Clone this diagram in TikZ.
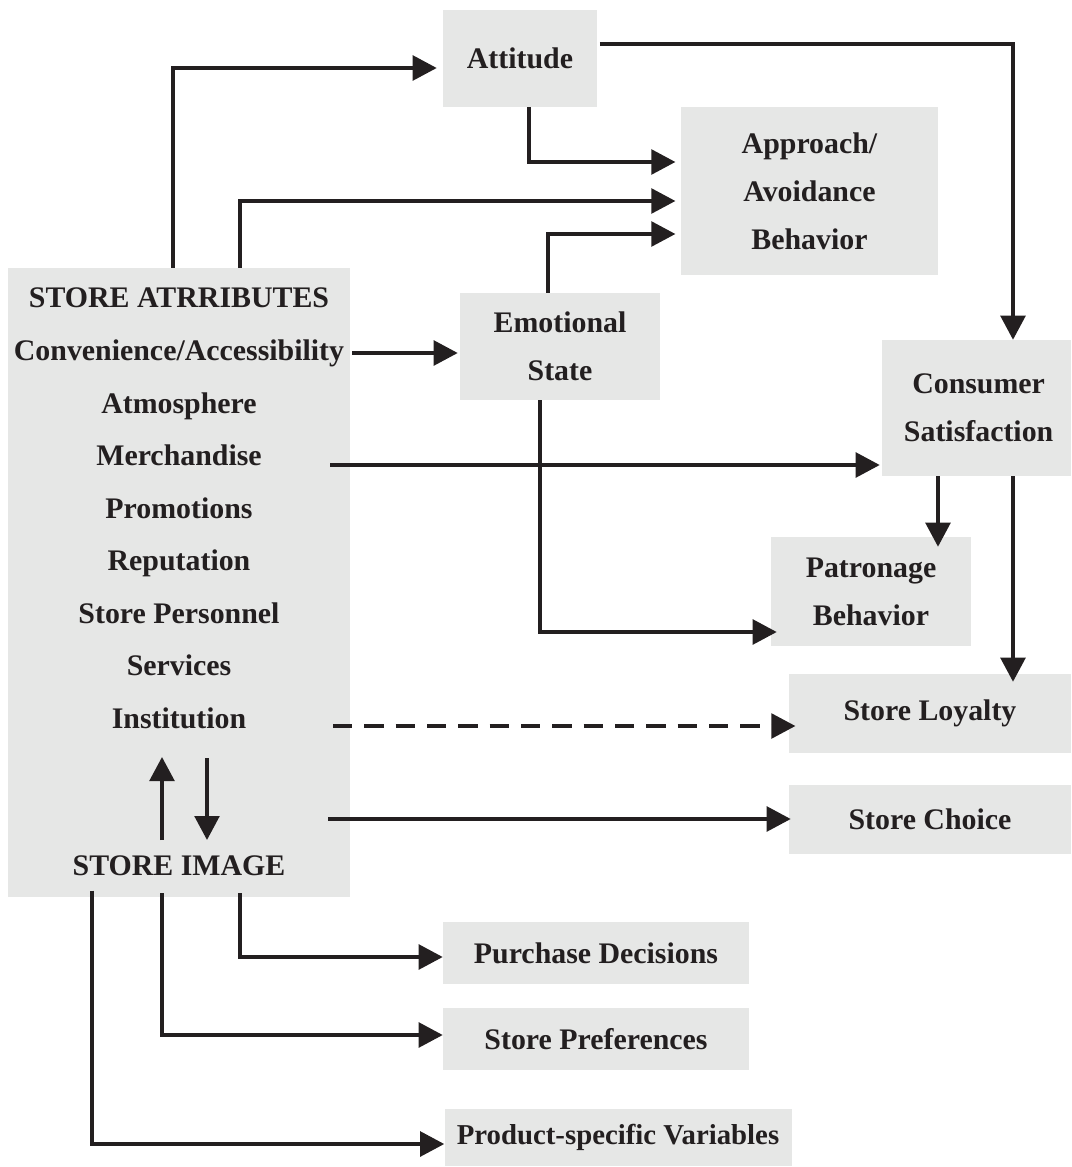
\documentclass[tikz,border=0pt]{standalone}
\usepackage{fontspec}
\setmainfont{Liberation Serif}
\usetikzlibrary{arrows.meta,calc}
\definecolor{boxfill}{RGB}{230,231,230}
\definecolor{ink}{RGB}{35,31,32}

\begin{document}
\begin{tikzpicture}[x=0.75pt,y=-0.75pt,
  txt/.style={font=\fontsize{22.4}{36}\selectfont\bfseries, text=ink},
  box/.style={txt, fill=boxfill, draw=none, inner sep=0pt, align=center},
  wh/.style 2 args={minimum width=#1*0.75pt, minimum height=#2*0.75pt},
  item/.style={txt, anchor=base, inner sep=0pt},
  link/.style={draw=ink, line width=2.6pt, -{Triangle[length=18pt,width=18.5pt]}},
  dashlink/.style={link, dash pattern=on 14.5pt off 9pt}
]
\useasboundingbox (0,0) rectangle (1071,1167);

% boxes
\node[box, wh={154}{97}]  (att)  at (520,58.5)   {Attitude};
\node[box, wh={257}{168}] (app)  at (809.5,191)  {Approach/\\Avoidance\\Behavior};
\node[box, wh={342}{629}] (big)  at (179,582.5)  {};
\node[box, wh={200}{107}] (emo)  at (560,346.5)  {Emotional\\State};
\node[box, wh={189}{136}] (sat)  at (976.5,408)  {\hspace*{8\pgflinewidth}Consumer\\\hspace*{8\pgflinewidth}Satisfaction};
\node[box, wh={200}{109}] (pat)  at (871,591.5)  {Patronage\\Behavior};
\node[box, wh={282}{79}]  (loy)  at (930,713.5)  {Store Loyalty};
\node[box, wh={282}{69}]  (cho)  at (930,819.5)  {Store Choice};
\node[box, wh={306}{62}]  (pur)  at (596,953)    {Purchase Decisions};
\node[box, wh={306}{62}]  (pre)  at (596,1039)   {Store Preferences};
\node[box, wh={347}{57}]  (prod) at (618,1137.5) {\fontsize{21.6}{36}\selectfont Product-specific Variables};

% store attribute list
\node[item] (hdr)  at (179,307) {STORE ATRRIBUTES};
\node[item] (conv) at (179,360) {Convenience/Accessibility};
\node[item] (atm)  at (179,413) {Atmosphere};
\node[item] (mer)  at (179,465) {Merchandise};
\node[item] (pro)  at (179,518) {Promotions};
\node[item] (rep)  at (179,570) {Reputation};
\node[item] (per)  at (179,623) {Store Personnel};
\node[item] (ser)  at (179,675) {Services};
\node[item] (ins)  at (179,728) {Institution};
\node[item] (img)  at (179,875) {STORE IMAGE};

% free ends inside the attribute box
\coordinate (convout) at (352,353);
\coordinate (merout)  at (330,465);
\coordinate (insout)  at (333,726);
\coordinate (choout)  at (328,819);
\coordinate (upfrom)  at (162,840);
\coordinate (upto)    at (162,757);
\coordinate (dnfrom)  at (207,758);
\coordinate (dnto)    at (207,840);

% connectors
\draw[link, shorten >=4.5pt] (big.north -| 173,0) |- (att.west |- 0,68);
\draw[link, shorten >=4pt]   (big.north -| 240,0) |- (app.west |- 0,201);
\draw[link, shorten >=4pt]   (att.south -| 529,0) |- (app.west |- 0,162);
\draw[link, shorten >=4pt]   (emo.north -| 548,0) |- (app.west |- 0,234);
\draw[link, shorten <=2pt]   (att.east |- 0,44) -| (sat.north -| 1013,0);
\draw[link, shorten >=1.5pt] (convout) -- (emo.west |- convout);
\draw[link, shorten >=1.5pt] (merout) -- (sat.west |- merout);
\draw[link, shorten >=-7.5pt] (sat.south -| 938,0) -- (pat.north -| 938,0);
\draw[link, shorten >=-6pt]  (sat.south -| 1013,0) -- (loy.north -| 1013,0);
\draw[link, shorten >=-4.5pt] (emo.south -| 540,0) |- (pat.west |- 0,632);
\draw[dashlink, shorten >=-5pt] (insout) -- (loy.west |- insout);
\draw[link, shorten >=-1.5pt] (choout) -- (cho.west |- choout);
\draw[link] (upfrom) -- (upto);
\draw[link] (dnfrom) -- (dnto);
\draw[link, shorten <=-3pt] (big.south -| 240,0) |- (pur.west |- 0,957);
\draw[link, shorten <=-3pt] (big.south -| 162,0) |- (pre.west |- 0,1035);
\draw[link, shorten <=-5pt] (big.south -| 92,0)  |- (prod.west |- 0,1144);
\end{tikzpicture}
\end{document}
